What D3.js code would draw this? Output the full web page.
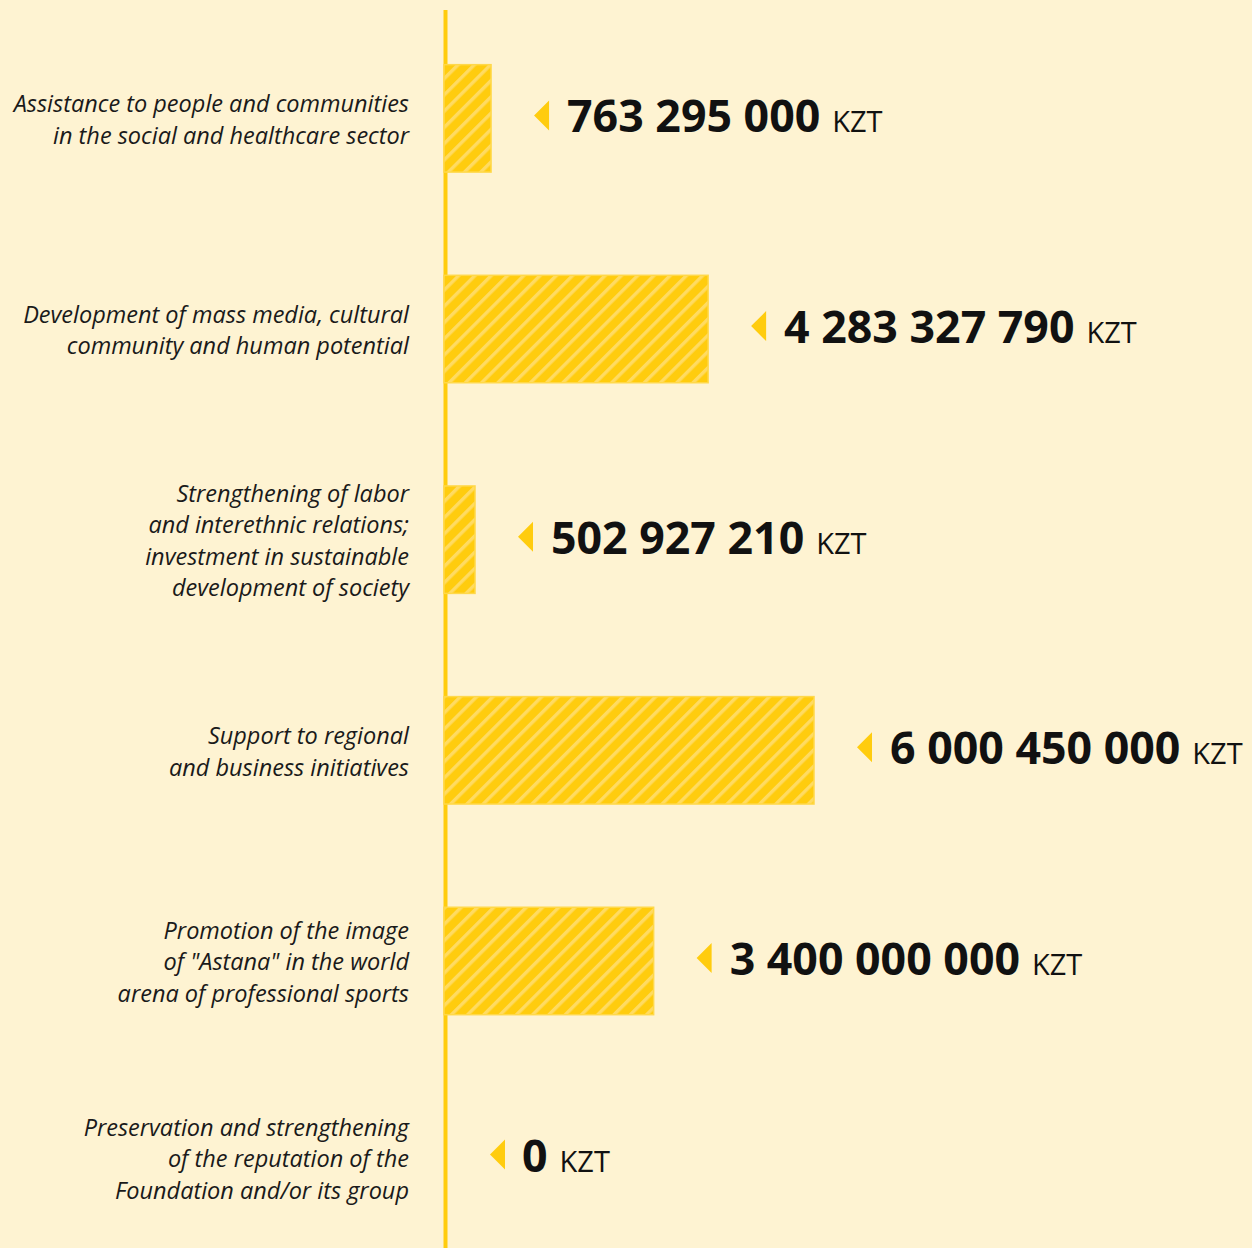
<!DOCTYPE html>
<html>
<head>
<meta charset="utf-8">
<script src="https://cdn.jsdelivr.net/npm/d3@7"></script>
<style>
  html, body { margin: 0; padding: 0; background: #fef3d2; }
  svg { display: block; }
</style>
</head>
<body>
<div id="chart"></div>
<script>
// categories (label lines) and values
var categories = [
  ["Assistance to people and communities", "in the social and healthcare sector"],
  ["Development of mass media, cultural", "community and human potential"],
  ["Strengthening of labor", "and interethnic relations;", "investment in sustainable", "development of society"],
  ["Support to regional", "and business initiatives"],
  ["Promotion of the image", "of \"Astana\" in the world", "arena of professional sports"],
  ["Preservation and strengthening", "of the reputation of the", "Foundation and/or its group"]
];
var values = [763295000, 4283327790, 502927210, 6000450000, 3400000000, 0];
var unit = "KZT";

var width = 1252, height = 1248;
var axisX = 445.5;

var svg = d3.select("#chart").append("svg")
  .attr("width", width).attr("height", height);

svg.append("rect").attr("width", width).attr("height", height).attr("fill", "#fef3d2");

var defs = svg.append("defs");
var pat = defs.append("pattern")
  .attr("id", "hatch")
  .attr("patternUnits", "userSpaceOnUse")
  .attr("width", 11.5).attr("height", 11.5)
  .attr("patternTransform", "rotate(45)");
pat.append("rect").attr("width", 11.5).attr("height", 11.5).attr("fill", "#ffcc0e");
pat.append("rect").attr("x", 0).attr("width", 3.4).attr("height", 11.5).attr("fill", "#ffdb62");

var idx = d3.range(values.length);
var y = d3.scaleBand().domain(idx).range([12, 12 + 211 * values.length]).paddingInner(0.49).paddingOuter(0.25);
var x = d3.scaleLinear().domain([0, d3.max(values)]).range([444, 814]);

var fmt = function(v){ return d3.format(",")(v).replace(/,/g, " "); };

// rows without a bar sit a little higher
var mid = function(i){ return y(i) + y.bandwidth() / 2 + (values[i] > 0 ? 0 : -14); };

// axis line
svg.append("line")
  .attr("x1", axisX).attr("x2", axisX)
  .attr("y1", 10).attr("y2", height)
  .attr("stroke", "#ffcc0e").attr("stroke-width", 4);

var rows = svg.selectAll("g.row").data(idx).enter().append("g").attr("class", "row");

rows.filter(function(i){ return values[i] > 0; }).append("rect")
  .attr("x", x(0))
  .attr("y", function(i){ return y(i); })
  .attr("width", function(i){ return x(values[i]) - x(0); })
  .attr("height", y.bandwidth())
  .attr("fill", "url(#hatch)")
  .attr("stroke", "#ffd84a").attr("stroke-width", 1.5);

// category labels
rows.append("text")
  .attr("text-anchor", "end")
  .attr("font-family", "'Open Sans', sans-serif")
  .attr("font-style", "italic")
  .attr("font-size", 23.5)
  .attr("fill", "#1a1a1a")
  .each(function(i){
    var lines = categories[i];
    var cy = mid(i);
    var lh = 31.5;
    var t0 = cy - (lines.length - 1) * lh / 2 + 9.5;
    d3.select(this).selectAll("tspan").data(lines).enter().append("tspan")
      .attr("x", 409)
      .attr("y", function(d, k){ return t0 + k * lh; })
      .text(function(d){ return d; });
  });

// value markers
rows.append("path")
  .attr("d", function(i){
    var ax = x(values[i]) + (values[i] > 0 ? 43 : 46), cy = mid(i) - 3;
    return "M" + ax + "," + cy + "L" + (ax + 15) + "," + (cy - 15) + "L" + (ax + 15) + "," + (cy + 15) + "Z";
  })
  .attr("fill", "#ffcc0e");

var vt = rows.append("text")
  .attr("x", function(i){ return x(values[i]) + (values[i] > 0 ? 76 : 78); })
  .attr("y", function(i){ return mid(i) + 14; })
  .attr("font-family", "'Open Sans', sans-serif")
  .attr("fill", "#111");
vt.append("tspan")
  .attr("font-weight", 700).attr("font-size", 44.7)
  .text(function(i){ return fmt(values[i]); });
vt.append("tspan")
  .attr("dx", 12)
  .attr("font-size", 29)
  .text(unit);
</script>
</body>
</html>
